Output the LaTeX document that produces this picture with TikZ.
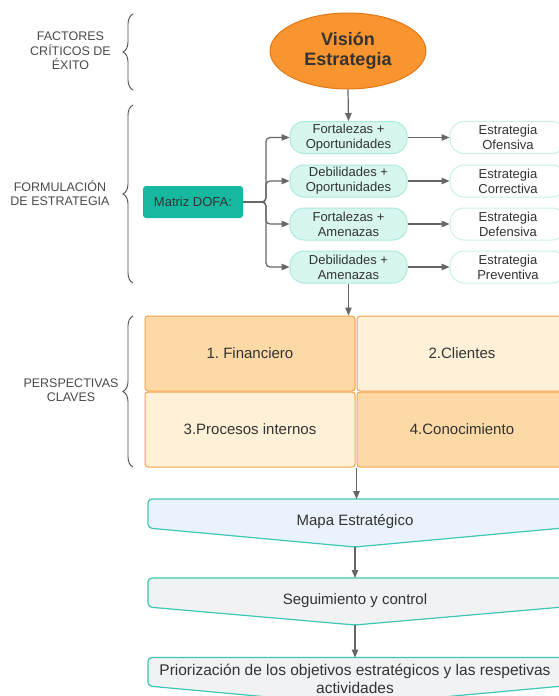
\documentclass[tikz,border=0pt]{standalone}
\usepackage{fontspec}
\setmainfont{Liberation Sans}
\usetikzlibrary{arrows.meta,shapes.geometric,decorations.pathreplacing,calc}
\frenchspacing
\definecolor{txt}{HTML}{333333}
\definecolor{lbl}{HTML}{4A4A4A}
\definecolor{ellfill}{HTML}{F8952F}
\definecolor{ellbd}{HTML}{E27A1C}
\definecolor{mintfill}{HTML}{D6F6EF}
\definecolor{mintbd}{HTML}{ABEBDD}
\definecolor{outbd}{HTML}{C8F2E9}
\definecolor{teal}{HTML}{16B8A0}
\definecolor{orfill}{HTML}{FDD9A5}
\definecolor{crfill}{HTML}{FFF1D8}
\definecolor{orbd}{HTML}{F7A44C}
\definecolor{mapafill}{HTML}{EAF3FD}
\definecolor{segfill}{HTML}{F1F2F4}
\definecolor{vbd}{HTML}{3CC8B5}
\definecolor{conn}{HTML}{666666}
\begin{document}
\begin{tikzpicture}[x=1pt,y=-1pt,
  arr/.style={draw=conn,line width=1.2pt,-{Triangle[length=8pt,width=6.5pt]}},
  bracestyle/.style={draw=lbl,line width=0.9pt,decorate,decoration={brace,amplitude=10pt}},
  sidelabel/.style={align=center,text=lbl,font=\fontsize{12.5}{14.5}\selectfont},
  mint/.style={draw=mintbd,fill=mintfill,line width=1pt,rounded corners=14pt,minimum width=117pt,minimum height=32pt,inner sep=1pt,align=center,text=txt,font=\fontsize{13}{15}\selectfont},
  outbox/.style={draw=outbd,fill=white,line width=1pt,rounded corners=14pt,minimum width=116pt,minimum height=32pt,inner sep=1pt,align=center,text=txt,font=\fontsize{13}{15}\selectfont},
  gridbox/.style={draw=orbd,line width=1pt,rounded corners=3pt,minimum width=210pt,minimum height=75pt,inner sep=0pt,text=txt,font=\fontsize{15}{18}\selectfont},
  vshape/.style={draw=vbd,line width=1.2pt,rounded corners=4pt},
  vtext/.style={text=txt,align=center,font=\fontsize{15}{18}\selectfont}
]
\useasboundingbox (0,0) rectangle (559,696);
\fill[white] (0,0) rectangle (559,696);

% side labels and braces
\node[sidelabel] (l1) at (70.5,51) {FACTORES\\CRÍTICOS DE\\ÉXITO};
\node[sidelabel] (l2) at (60,193) {FORMULACIÓN\\DE ESTRATEGIA};
\node[sidelabel] (l3) at (71,390) {PERSPECTIVAS\\CLAVES};
\draw[bracestyle] (133,90) -- (133,14);
\draw[bracestyle] (133,283) -- (133,105);
\draw[bracestyle] (133,467) -- (133,316);

% vision
\node[ellipse,draw=ellbd,fill=ellfill,line width=1pt,minimum width=156pt,minimum height=76pt,inner sep=0pt,align=center,text=txt,font=\fontsize{18}{20.5}\selectfont\bfseries] (vis) at (348,51) {Visión\\Estrategia};

% DOFA
\node[fill=teal,rounded corners=3pt,minimum width=100pt,minimum height=32pt,inner sep=0pt,text=txt,font=\fontsize{13}{15}\selectfont] (dofa) at (193,202) {Matriz DOFA:};
\coordinate (bus) at (266,202);

\node[mint] (b1) at (348.5,137.5) {Fortalezas +\\Oportunidades};
\node[mint] (b2) at (348.5,181) {Debilidades +\\Oportunidades};
\node[mint] (b3) at (348.5,224) {Fortalezas +\\Amenazas};
\node[mint] (b4) at (348.5,267) {Debilidades +\\Amenazas};

\node[outbox] (r1) at (508,137.5) {Estrategia\\Ofensiva};
\node[outbox] (r2) at (508,181) {Estrategia\\Correctiva};
\node[outbox] (r3) at (508,224) {Estrategia\\Defensiva};
\node[outbox] (r4) at (508,267) {Estrategia\\Preventiva};

\draw[arr] (vis.south) -- (b1.north);
\foreach \k in {1,2,3,4}{
  \draw[arr,rounded corners=4pt] (dofa.east) -- (bus) |- (b\k.west);
  \draw[arr] (b\k.east) -- (r\k.west);
}

% grid
\node[gridbox,fill=orfill] (g1) at (250,353.5) {1. Financiero};
\node[gridbox,fill=crfill] (g2) at (462,353.5) {2.Clientes};
\node[gridbox,fill=crfill] (g3) at (250,429.5) {3.Procesos internos};
\node[gridbox,fill=orfill] (g4) at (462,429.5) {4.Conocimiento};
\draw[arr] (b4.south) -- (b4.south |- g1.north);

% bottom flow
\coordinate (mapatop) at (355,499);
\coordinate (mapatip) at (355,547);
\draw[vshape,fill=mapafill] (148,499) -- (563,499) -- (563,528) -- (mapatip) -- (148,528) -- cycle;
\node[vtext] (mapa) at (355,522) {Mapa Estratégico};

\coordinate (segtop) at (355,578);
\coordinate (segtip) at (355,625);
\draw[vshape,fill=segfill] (148,578) -- (563,578) -- (563,607) -- (segtip) -- (148,607) -- cycle;
\node[vtext] (seg) at (355,600.5) {Seguimiento y control};

\coordinate (priotop) at (355,657.5);
\coordinate (priotip) at (355,705);
\draw[vshape,fill=segfill] (148,657.5) -- (563,657.5) -- (563,686) -- (priotip) -- (148,686) -- cycle;
\node[vtext,font=\fontsize{15.5}{18}\selectfont] (prio) at (355,679) {Priorización de los objetivos estratégicos y las respetivas\\actividades};

\draw[arr] (g4.south west) -- (g4.south west |- mapatop);
\draw[arr] (mapatip) -- (segtop);
\draw[arr] (segtip) -- (priotop);
\end{tikzpicture}
\end{document}
